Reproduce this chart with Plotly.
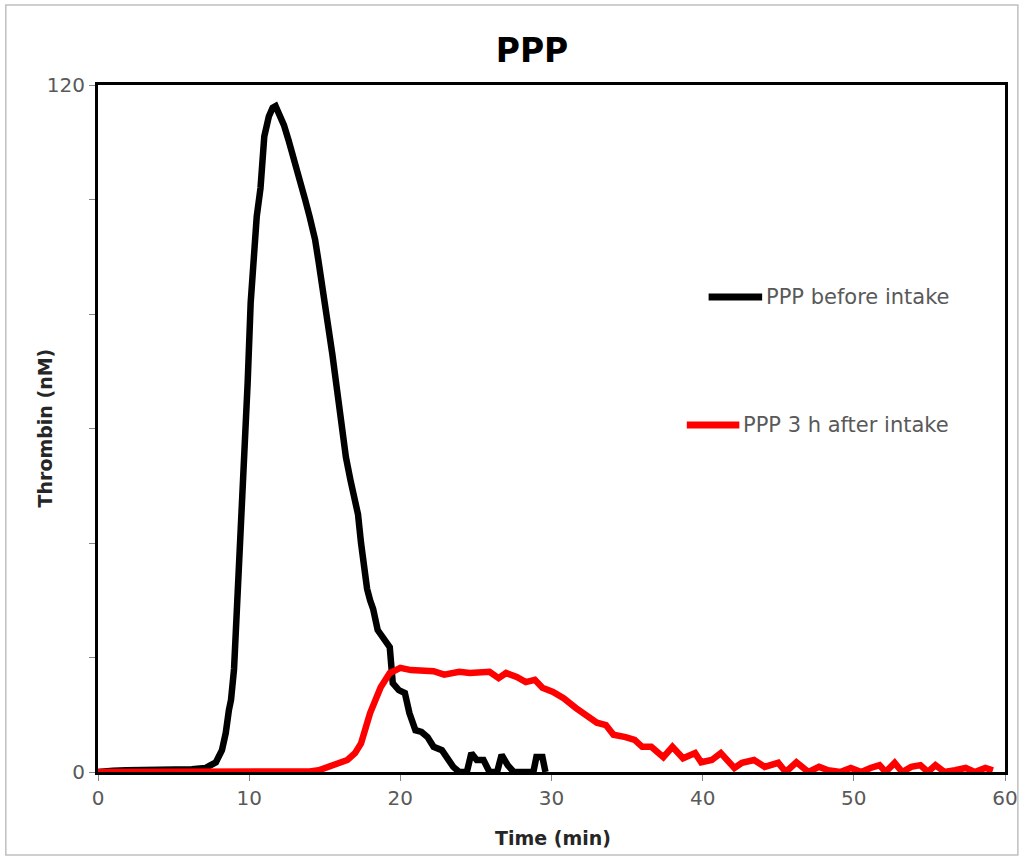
import plotly.graph_objects as go

# ---------------- data ----------------
black_t = [0, 0.3, 1.0, 1.9, 3.0, 4.0, 5.2, 6.2, 7.1, 7.8, 8.2, 8.45, 8.66, 8.8, 9.0, 9.3, 9.6, 9.9,
           10.1, 10.3, 10.5, 10.75, 11.0, 11.3, 11.55, 11.75, 12.0, 12.3, 12.6, 13.05, 13.4, 13.7,
           14.0, 14.36, 14.6, 14.9, 15.2, 15.5, 15.8, 16.1, 16.4, 16.7, 17.0, 17.2, 17.4, 17.6,
           17.8, 18.0, 18.2, 18.5, 18.95, 19.3, 19.5, 19.9, 20.3, 20.6, 21.0, 21.4, 21.8, 22.2,
           22.75, 23.1, 23.5, 23.9, 24.4, 24.7, 25.05, 25.5, 25.9, 26.4, 26.7, 27.1, 27.5, 28.2,
           28.8, 29.0, 29.4, 29.6]
black_v = [0.0, 0.0, 0.2, 0.3, 0.3, 0.4, 0.5, 0.5, 0.7, 1.7, 3.8, 6.8, 10.8, 12.6, 18, 33, 50, 68,
           82, 90, 97, 102, 111, 114.5, 116, 116.3, 115, 113, 110.4, 105.7, 102.5, 100,
           97, 93, 89, 84, 78, 73, 67, 60, 55, 51, 48, 45, 40, 35,
           32, 30, 28.5, 24.8, 23, 21.8, 15.5, 14.3, 13.8, 10.3, 7.3, 7.0, 6.1, 4.4,
           3.8, 2.6, 0.9, 0.0, 0.0, 3.3, 2.1, 2.1, 0.0, 0.0, 3.0, 1.2, 0.0, 0.0,
           0.0, 2.6, 2.6, 0.0]

red_t = [0, 5, 10, 14.0, 14.6, 15.2, 15.9, 16.5, 17.0, 17.4, 18.0, 18.7, 19.3, 20.0, 20.7, 21.6,
         22.2, 22.9, 23.3, 23.9, 24.6, 25.2, 25.9, 26.5, 27.0, 27.7, 28.3, 28.9, 29.4, 30.1,
         30.8, 31.6, 32.5, 33.0, 33.6, 34.1, 34.9, 35.5, 36.0, 36.6, 37.4, 38.0, 38.7, 39.5,
         39.9, 40.6, 41.2, 42.1, 42.6, 43.4, 44.1, 45.0, 45.5, 46.2, 47.0, 47.7, 48.3, 49.1,
         49.8, 50.5, 51.1, 51.7, 52.1, 52.7, 53.2, 53.8, 54.4, 54.9, 55.4, 56.0, 56.7, 57.4,
         58.0, 58.7, 59.2]
red_v = [0, 0, 0, 0.1, 0.3, 0.9, 1.3, 2.1, 3.3, 5.0, 10.3, 14.8, 17.3, 18.2, 17.8, 17.8,
         17.6, 17.0, 17.3, 17.5, 17.3, 17.3, 17.5, 16.4, 17.3, 16.6, 15.7, 16.1, 14.7, 14.0,
         12.9, 11.2, 9.6, 8.6, 8.2, 6.5, 6.1, 5.6, 4.4, 4.4, 2.6, 4.4, 2.4, 3.3,
         1.7, 2.1, 3.3, 0.7, 1.6, 2.1, 0.9, 1.6, 0.0, 1.7, 0.0, 0.9, 0.3, 0.0,
         0.7, 0.0, 0.7, 1.2, 0.0, 1.6, 0.0, 0.9, 1.2, 0.0, 1.2, 0.0, 0.3, 0.7,
         0.0, 0.7, 0.3]

x_ticks = [0, 10, 20, 30, 40, 50, 60]
y_ticks = [0, 20, 40, 60, 80, 100, 120]
y_ticktext = ["0", "", "", "", "", "", "120"]
series_names = ["PPP before intake", "PPP 3 h after intake"]

FONT = "'DejaVu Sans', Verdana, sans-serif"
GRAY = "#595959"

fig = go.Figure()
fig.add_trace(go.Scatter(x=black_t, y=black_v, mode="lines", name=series_names[0],
                         line=dict(color="black", width=6.5), showlegend=False))
fig.add_trace(go.Scatter(x=red_t, y=red_v, mode="lines", name=series_names[1],
                         line=dict(color="#ff0000", width=6.5), showlegend=False))

# plot-area geometry helpers (pixels -> paper)
L, R, T, B = 98, 1013, 85, 772
W, H = R - L, B - T
def px(x):
    return (x - L) / W
def py(y):
    return (B - y) / H

shapes = []
annotations = []
# legend (manual)
legend_items = [
    (series_names[0], "black", 714, 768, 297, 770),
    (series_names[1], "#ff0000", 692, 745, 425, 747),
]
for name, col, x0, x1, yy, tx in legend_items:
    shapes.append(dict(type="line", xref="paper", yref="paper", x0=px(x0), x1=px(x1),
                       y0=py(yy), y1=py(yy), line=dict(color=col, width=7)))
    annotations.append(dict(text=name, xref="paper", yref="paper", x=px(tx), y=py(yy),
                            xanchor="left", yanchor="middle", showarrow=False,
                            font=dict(family=FONT, size=21, color=GRAY)))
# outer chart frame
shapes.append(dict(type="rect", xref="paper", yref="paper", x0=px(5), x1=px(1026),
                   y0=py(5), y1=py(855), line=dict(color="#c0c0c0", width=1.5), layer="below"))

annotations.append(dict(text="<b>Time (min)</b>", xref="paper", yref="paper", x=px(557), y=py(838),
                        xanchor="center", yanchor="middle", showarrow=False,
                        font=dict(family=FONT, size=19, color="#262626")))
annotations.append(dict(text="<b>Thrombin (nM)</b>", xref="paper", yref="paper", x=px(45), y=py(428),
                        xanchor="center", yanchor="middle", showarrow=False, textangle=-90,
                        font=dict(family=FONT, size=19, color="#262626")))

fig.update_layout(
    width=1030, height=858,
    margin=dict(l=L, r=1030 - R, t=T, b=858 - B),
    paper_bgcolor="white", plot_bgcolor="white",
    title=dict(text="<b>PPP</b>", x=532 / 1030, xref="container", xanchor="center",
               y=1 - 50 / 858, yref="container", yanchor="middle",
               font=dict(family=FONT, size=33, color="black")),
    shapes=shapes, annotations=annotations,
    showlegend=False,
)
fig.update_xaxes(range=[0, 60], tickvals=x_ticks, ticks="outside", ticklen=6, tickcolor="#868686",
                 showline=True, linecolor="black", linewidth=3, mirror=True, showgrid=False,
                 zeroline=False, tickfont=dict(family=FONT, size=20, color=GRAY))
fig.update_yaxes(range=[0, 120], tickvals=y_ticks, ticktext=y_ticktext, ticks="outside", ticklen=6,
                 tickcolor="#868686", showline=True, linecolor="black", linewidth=3, mirror=True,
                 showgrid=False, zeroline=False, tickfont=dict(family=FONT, size=20, color=GRAY))

fig.write_html("out.html", config={"displayModeBar": False},
               post_script="document.body.style.margin='0';document.body.style.overflow='hidden';")
